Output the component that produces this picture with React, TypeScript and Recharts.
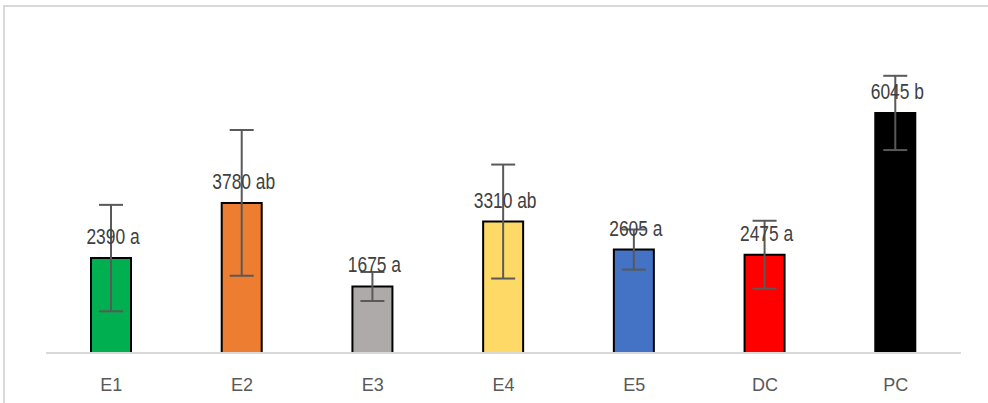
import React from 'react';
import { BarChart, Bar, XAxis, YAxis, ErrorBar, Cell, LabelList } from 'recharts';

const categories = ['E1', 'E2', 'E3', 'E4', 'E5', 'DC', 'PC'];
const means = [2390, 3780, 1675, 3310, 2605, 2475, 6045];
const errors = [1340, 1835, 365, 1435, 505, 855, 935];
const letters = ['a', 'ab', 'a', 'ab', 'a', 'a', 'b'];
const colors = ['#00B050', '#ED7D31', '#AEAAAA', '#FFD966', '#4472C4', '#FF0000', '#000000'];

const data = categories.map((c, i) => ({
  name: c,
  value: means[i],
  err: errors[i],
  label: `${means[i]} ${letters[i]}`,
}));

const FONT = "'Liberation Sans', Arial, sans-serif";

const renderLabel = (props: any) => {
  const { x, y, width, index } = props;
  const cx = Number(x) + Number(width) / 2 + 2;
  const by = Number(y) - 14;
  return (
    <text
      transform={`translate(${cx},${by}) scale(0.79,1)`}
      x={0}
      y={0}
      textAnchor="middle"
      fontFamily={FONT}
      fontSize={22}
      fill="#404040"
    >
      {data[index].label}
    </text>
  );
};

const AxisTick = (props: any) => {
  const { x, payload } = props;
  return (
    <text x={x} y={391} textAnchor="middle" fontFamily={FONT} fontSize={18} fill="#595959">
      {payload.value}
    </text>
  );
};

export default function App() {
  return (
    <div style={{ position: 'absolute', left: 0, top: 0, width: 988, height: 403, overflow: 'hidden', background: '#fff' }}>
      <div
        style={{
          position: 'absolute',
          left: 3,
          top: 5,
          width: 1000,
          height: 430,
          border: '2px solid #D9D9D9',
          boxSizing: 'border-box',
        }}
      />
      <div style={{ position: 'absolute', left: 0, top: 0 }}>
        <BarChart
          width={988}
          height={403}
          data={data}
          margin={{ top: 75, right: 27, left: 46, bottom: 0 }}
        >
          <XAxis
            dataKey="name"
            height={50}
            axisLine={{ stroke: '#D9D9D9', strokeWidth: 2 }}
            tickLine={false}
            tick={<AxisTick />}
            interval={0}
          />
          <YAxis hide domain={[0, 7000]} />
          <Bar dataKey="value" barSize={40} stroke="#000000" strokeWidth={2} isAnimationActive={false}>
            {data.map((d, i) => (
              <Cell key={d.name} fill={colors[i]} />
            ))}
            <LabelList dataKey="label" content={renderLabel} />
            <ErrorBar dataKey="err" width={12} stroke="#595959" strokeWidth={2} direction="y" />
          </Bar>
        </BarChart>
      </div>
    </div>
  );
}
